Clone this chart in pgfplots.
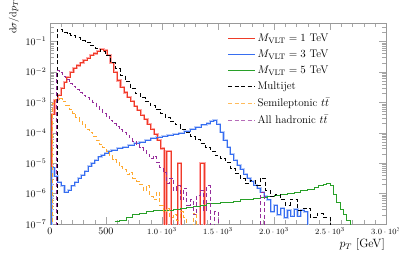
\documentclass[border=0pt]{standalone}
\usepackage{pgfplots}
\pgfplotsset{compat=1.18}
\definecolor{cred}{RGB}{238,60,40}
\definecolor{cblue}{RGB}{55,110,240}
\definecolor{cgreen}{RGB}{40,160,40}
\definecolor{corange}{RGB}{255,170,50}
\definecolor{cpurple}{RGB}{150,45,155}

\pgfplotstableread{
x y
0 1e-9
15 4e-4
40 1.17e-3
70 1.7e-3
100 2.9e-3
125 4.6e-3
150 6.6e-3
180 9.6e-3
210 1.3e-2
240 1.6e-2
270 2.0e-2
300 2.4e-2
330 2.8e-2
360 3.5e-2
390 4.0e-2
420 4.7e-2
450 5.5e-2
480 5.0e-2
510 3.5e-2
540 2.0e-2
570 9.6e-3
600 5.2e-3
630 3.1e-3
660 2.1e-3
690 1.45e-3
720 1.07e-3
750 7.4e-4
780 5.5e-4
810 3.7e-4
840 2.8e-4
870 1.9e-4
900 1.3e-4
930 9e-5
960 5.6e-5
990 3e-5
1020 1e-9
1040 2.5e-5
1080 1e-9
1140 1e-5
1170 1e-9
1340 1e-5
1380 1e-9
1400 1e-9
}\redtab

\pgfplotstableread{
x y
0 1e-9
15 7e-6
40 3.7e-6
70 2.4e-6
100 1.8e-6
130 1.1e-6
160 1.3e-6
190 1.8e-6
220 2.4e-6
250 3.2e-6
280 4.1e-6
310 5.5e-6
340 7.9e-6
370 1e-5
400 1.26e-5
430 1.6e-5
460 1.8e-5
490 2.1e-5
520 2.5e-5
550 2.7e-5
600 3.1e-5
650 3.3e-5
700 3.9e-5
750 4.6e-5
800 4.9e-5
850 5.6e-5
900 6.6e-5
950 7.1e-5
1000 7.7e-5
1050 8.3e-5
1100 9e-5
1150 9.7e-5
1200 1.12e-4
1250 1.3e-4
1300 1.5e-4
1350 1.8e-4
1400 2.0e-4
1430 2.4e-4
1460 2.6e-4
1490 1.9e-4
1520 1.05e-4
1550 5.6e-5
1580 3.3e-5
1610 2.0e-5
1640 1.26e-5
1670 8.5e-6
1700 6.3e-6
1730 4.4e-6
1760 3.2e-6
1790 2.6e-6
1820 1.9e-6
1850 1.5e-6
1880 1.1e-6
1910 8.3e-7
1940 6.2e-7
1970 2.5e-7
2000 4.2e-7
2030 2.0e-7
2060 3.3e-7
2090 1.6e-7
2120 2.9e-7
2150 1.8e-7
2180 3.1e-7
2210 1.8e-7
2240 2.9e-7
2270 2.5e-7
2300 1e-9
2320 1e-9
}\bluetab

\pgfplotstableread{
x y
580 1.2e-7
620 1.35e-7
680 1.7e-7
740 2e-7
800 2.15e-7
860 2.5e-7
920 2.7e-7
980 2.7e-7
1040 2.9e-7
1100 3.1e-7
1160 3.3e-7
1220 3.6e-7
1280 3.9e-7
1340 4.2e-7
1400 4.6e-7
1460 4.6e-7
1520 5e-7
1580 5.3e-7
1640 5.7e-7
1700 6.2e-7
1760 6.6e-7
1820 7.1e-7
1880 7.7e-7
1940 8.3e-7
2000 8.9e-7
2060 9.6e-7
2120 1.04e-6
2180 1.1e-6
2240 1.3e-6
2300 1.4e-6
2360 1.6e-6
2400 1.9e-6
2440 2.0e-6
2470 2.2e-6
2500 1.8e-6
2530 9.6e-7
2560 5.3e-7
2590 3.1e-7
2620 2e-7
2650 1.35e-7
2680 1e-9
2700 1e-9
}\greentab

\pgfplotstableread{
x y
0 1e-9
62 0.25
107 0.20
152 0.18
179 0.16
223 0.135
268 0.107
312 0.093
357 0.074
402 0.059
446 0.047
491 0.035
536 0.020
580 0.013
625 7.7e-3
670 4.9e-3
714 2.9e-3
759 2.0e-3
804 1.45e-3
848 1.07e-3
893 7.9e-4
938 5.9e-4
982 4.4e-4
1027 3.2e-4
1072 2.4e-4
1116 1.8e-4
1161 1.3e-4
1206 1.05e-4
1250 7.7e-5
1295 6.2e-5
1340 4.6e-5
1384 3.3e-5
1429 2.5e-5
1473 1.8e-5
1518 1.45e-5
1563 1.07e-5
1607 6.9e-6
1652 4.7e-6
1697 3.2e-6
1741 2.2e-6
1786 2.8e-6
1830 1.9e-6
1875 3.2e-6
1920 1.3e-6
1965 7.8e-7
2009 9.5e-7
2054 6.2e-7
2099 4.2e-7
2143 6.6e-7
2206 2.9e-7
2259 3.3e-7
2322 1.6e-7
2384 2.3e-7
2438 1.7e-7
2500 1e-9
2520 1e-9
}\blacktab

\pgfplotstableread{
x y
0 1e-9
20 9.3e-4
50 1.26e-3
80 1.3e-3
110 1.07e-3
140 7.9e-4
170 5.9e-4
200 4.4e-4
230 3.2e-4
260 2.4e-4
290 1.8e-4
320 1.3e-4
350 1.05e-4
380 7.7e-5
410 5.6e-5
440 4.2e-5
470 3.3e-5
500 2.5e-5
530 1.8e-5
560 1.35e-5
590 1.07e-5
620 7.9e-6
650 6.3e-6
680 4.4e-6
710 5e-6
740 3.2e-6
770 2.6e-6
800 2e-6
830 1.3e-6
860 1.8e-6
890 8.3e-7
920 6.2e-7
950 1.1e-6
980 4.2e-7
1010 2.5e-7
1040 3.3e-7
1070 1.6e-7
1100 2.1e-7
1130 1.35e-7
1160 2.5e-7
1190 1.6e-7
1220 1e-9
1280 2.3e-7
1310 1e-9
1330 1e-9
}\orangetab

\pgfplotstableread{
x y
0 1e-9
55 1.1e-2
80 9.6e-3
110 7.1e-3
140 5.7e-3
170 4.2e-3
200 3.4e-3
230 2.7e-3
260 2.1e-3
290 1.7e-3
320 1.45e-3
350 1.26e-3
380 1e-3
410 7.4e-4
440 5.9e-4
470 4.4e-4
500 3.5e-4
530 2.6e-4
560 2.0e-4
590 1.6e-4
620 1.3e-4
650 1.05e-4
680 8.3e-5
710 6.6e-5
740 5.3e-5
770 4.2e-5
800 3.3e-5
830 2.7e-5
860 2.0e-5
890 1.45e-5
920 1.7e-5
950 1.07e-5
980 7.4e-6
1010 5e-6
1040 2.2e-6
1070 3.2e-6
1100 1.3e-6
1130 1.9e-6
1160 6.2e-7
1190 1.5e-6
1220 4.2e-7
1250 6.2e-7
1280 2.0e-7
1310 9e-7
1340 1.3e-6
1370 2.9e-7
1400 1.8e-6
1430 1e-9
1470 2.5e-7
1500 1e-9
1880 1.1e-6
1910 1e-9
1930 1e-9
}\purpletab

\begin{document}
\begin{tikzpicture}
\begin{axis}[
  name=ax,
  scale only axis, width=336pt, height=201pt,
  xmin=0, xmax=3000, ymode=log, ymin=1e-7, ymax=0.4,
  xtick={0,500,1000,1500,2000,2500,3000},
  xticklabels={0,500,{\footnotesize$1.0\cdot10^{3}$},{\footnotesize$1.5\cdot10^{3}$},{\footnotesize$2.0\cdot10^{3}$},{\footnotesize$2.5\cdot10^{3}$},{\footnotesize$3.0\cdot10^{3}$}},
  minor x tick num=4,
  tick align=inside,
  axis line style={gray!80},
  tick style={gray!70},
  major tick length=7pt, minor tick length=4pt,
  xlabel={$p_T$ [GeV]},
  ylabel={$\mathrm{d}\sigma/\mathrm{d}p_T$},
  xlabel style={at={(ticklabel cs:1)}, anchor=north east, inner sep=1pt, font=\large},
  ylabel style={at={(ticklabel cs:1.03)}, anchor=near ticklabel},
  legend cell align=left,
  legend style={draw=none, fill=none, at={(0.525,0.96)}, anchor=north west, row sep=3pt, inner sep=1pt, font=\fontsize{11}{12}\selectfont},
  legend image code/.code={\draw[#1] (0cm,0cm) -- (0.95cm,0cm);},
  every axis plot/.append style={line width=0.8pt},
]
\addlegendimage{cred, line width=1pt}
\addlegendentry{$M_{\mathrm{VLT}}=1$ TeV}
\addlegendimage{cblue, line width=1pt}
\addlegendentry{$M_{\mathrm{VLT}}=3$ TeV}
\addlegendimage{cgreen, line width=1pt}
\addlegendentry{$M_{\mathrm{VLT}}=5$ TeV}
\addlegendimage{black, line width=1pt, dash pattern=on 4pt off 2.5pt}
\addlegendentry{Multijet}
\addlegendimage{corange!80, line width=1pt, dash pattern=on 4pt off 2.5pt}
\addlegendentry{Semileptonic $t\bar{t}$}
\addlegendimage{cpurple!70, line width=1pt, dash pattern=on 4pt off 2.5pt}
\addlegendentry{All hadronic $t\bar{t}$}
\addplot[const plot, red!35, line width=2.2pt, forget plot] table {\redtab};
\addplot[const plot, cblue!35, line width=2.2pt, forget plot] table {\bluetab};
\addplot[const plot, cred, forget plot] table {\redtab};
\addplot[const plot, cblue, forget plot] table {\bluetab};
\addplot[const plot, cgreen, forget plot] table {\greentab};
\addplot[const plot, black, dash pattern=on 4pt off 2.5pt, forget plot] table {\blacktab};
\addplot[const plot, corange, dash pattern=on 4pt off 2.5pt, forget plot] table {\orangetab};
\addplot[const plot, cpurple, dash pattern=on 4pt off 2.5pt, forget plot] table {\purpletab};
\end{axis}
\pgfresetboundingbox
\path ([xshift=-50pt,yshift=-35pt]ax.south west) rectangle ([xshift=13pt,yshift=23pt]ax.north east);
\end{tikzpicture}
\end{document}
